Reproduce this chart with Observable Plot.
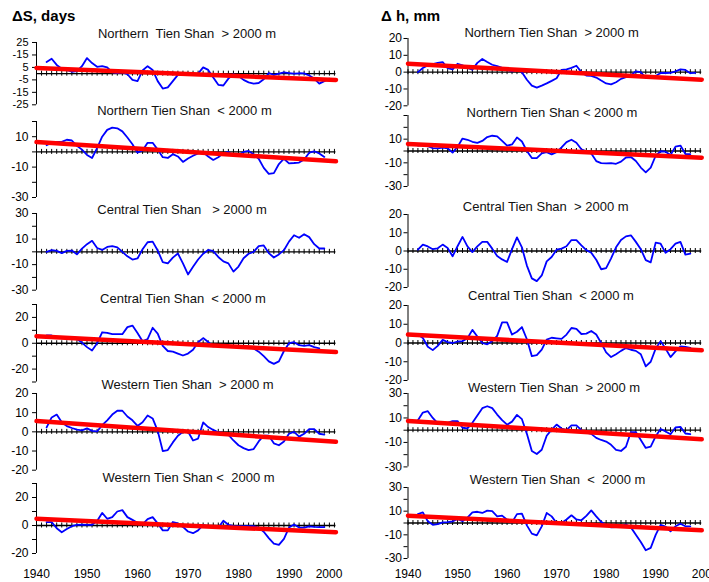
<!DOCTYPE html>
<html><head><meta charset="utf-8">
<script src="https://cdn.jsdelivr.net/npm/d3@7"></script>
<script src="https://cdn.jsdelivr.net/npm/@observablehq/plot@0.6"></script>
<style>
html,body{margin:0;padding:0;background:#fff;overflow:hidden;}
#chart{position:relative;width:709px;height:582px;font-family:"Liberation Sans",Arial,sans-serif;color:#000;}
.hdr{position:absolute;font-weight:bold;font-size:15px;line-height:1;white-space:pre;}
.ttl{position:absolute;font-size:13px;line-height:1;white-space:pre;transform:translate(-50%,-50%);color:#111;}
</style></head><body><div id="chart"></div>
<script>
// ---------- data ----------
const startYear = 1942;
const trendYears = [1940, 1999.3];
const yearTicks = d3.range(1940, 2000);
const decadeLabels = [1940, 1950, 1960, 1970, 1980, 1990];
const lastLabel = [2000];

// ΔS, days
const dsNorthHigh = [9.4,12,7,4,3,1.5,2,6,12.5,8.5, 5.5,6,5,1,0.5,1,-0.5,-5,-6,2.5, 6,3,-6,-12,-11,-6,-1,-0.5,-0.5,-0.5, 0,5,3,-3,-9,-9.5,-4,-0.5,-2,-5, -7,-8,-7.5,-4.5,0.5,-1,0,1,0.5,0, 0.3,0.2,-1.5,-4,-8,-6,-4];
const dsNorthLow = [4.4,6,6.6,6.6,8,7.5,4,1.5,-2,-4, 2.5,10,14.5,16,15.5,13.5,9.5,5,-0.5,1, 6,6,1.5,-3.5,-4,-1.5,-3,-6.6,-4.3,-2.5, -1,-0.3,-3,-5.3,-3.5,-0.8,0,-2.5,-2,0, 0.6,-1.5,-4.5,-10.5,-14.5,-14,-8,-4.5,-7.5,-7.3, -7,-5,-0.5,0.4,-1,-3.3];
const dsCentralHigh = [0,1.3,0.8,-1,0.8,1,-2,2.5,6,8.6, 3,1.5,3.8,4.5,3.5,0,-3.5,-6,-5.2,2, 7.5,8,1,-8,-9,-4.5,-1.3,-9,-17.7,-11.7, -6,-1.5,1.5,0.5,-4,-7.5,-9,-15.5,-11.5,-5, -1.5,0,4.5,5,-1,-4.4,-2,1.3,8,13, 11,13.8,11.5,6,2.6,2.6];
const dsCentralLow = [6,6,5,3.8,4.8,4.8,3.2,0.5,-3,-5.7, 0,8.5,8,7,7,7,12.5,13.7,8,1.5, 3.2,12,7.5,-2,-6,-6.5,-8,-9.5,-8,-5, 0.8,4,1,-2.5,-2,-1.5,-2,-2.5,-3,-3, -3.5,-4,-6.5,-10,-14,-16,-14,-6,0,0.8, -1.5,-2,-1.5,-3,-3.9];
const dsWestHigh = [2.3,7.5,9,5,3,2,1.2,0.8,1.8,0.5, 0.2,3.5,6,9,11,11,8,6,3.1,5, 8.5,7,0.5,-10,-9.5,-5.5,-2,0,0.2,-4.5, -3.5,4.9,2.5,1,-0.2,-0.5,-1.5,-4.5,-7,-8.5, -9.5,-9,-5,-2,-2,-6,-7,-5,-1,0, -2.5,-1,1.4,1.4,-1,-1.4];
const dsWestLow = [2.4,2.4,-2,-4.8,-2.5,-0.5,0.5,0.6,0.5,0.5, 3.2,9,4.8,6,10,11,6,4,2,0.8, 4.5,6,1.5,-3.5,-3.5,2.5,1.5,-1,-4.3,-5.5, -3.5,0.5,-0.7,-1.5,-1.7,3.4,0.5,-0.3,-0.5,-0.5, -0.5,-0.5,-1.5,-4.5,-9,-13,-13.8,-9.5,-1.5,0.7, -1.5,-1.5,-0.6,-1,-1.2,-1.2];

// Δh, mm
const dhNorthHigh = [0,2.5,4,4.8,5.5,6,2.4,1.6,5,4, 2.5,1.5,5.5,7.8,6,4.4,3.6,2.5,1.3,0.4, 1.5,0,-4.5,-8,-9.2,-8,-6.7,-5.2,-3.6,1.4, 1.7,2.5,3.8,0,-2,-2.2,-3.2,-5,-6.7,-7.3, -6,-4,-3,-2,0.5,0,-3.5,-3.5,-2.3,-0.5, -0.5,-0.4,0.5,1.6,1.3,-0.6,-0.4];
const dhNorthLow = [4.6,5,4,2.5,2.3,2.8,2.3,-1.4,3.5,10.5, 9.5,7.8,6.8,8.5,11.8,12.9,12.3,8.5,4.5,5.5, 11.5,8,0,-6,-6,-2,-1,-2.9,-1,3, 7.5,9.5,7,1.5,-0.2,-2.2,-8.5,-10.3,-10.4,-10.2, -10.8,-9,-5.5,-5.1,-8.5,-14,-18,-14,-4,-0.2, -0.6,-3.4,3.7,4.6,-2.6,-2.6];
const dhCentralHigh = [0.7,3.5,2.5,1,1.5,3.5,1.7,-2.9,2.6,7.7, 2.5,-0.6,2.5,5,5,1.3,-2.8,-4.6,-6,1, 7.5,2,-8,-15,-16.5,-13.4,-5.7,-3.3,0.7,1.3, 2.6,6,6,3.1,0.5,-1,-4.8,-10,-9.4,-4, 2,6,8,8.6,5,1,-5,-6.2,4.6,4, -1,1,4,5,-2,-1.5];
const dhCentralLow = [4.5,2.7,-2,-3.8,-1.5,1.7,0.5,0,0.8,1, 2.5,7,3.5,0,-0.7,1,3.8,11,11,4.5, 6,8.5,2,-7,-6.5,-3.5,1.8,2.8,2.5,2.2, 4.5,8,7.5,4.8,5,6.4,4.5,0,-5,-7.5, -6,-4.2,-2.7,-3.6,-4.2,-6,-12.5,-10,-3,1, -3,-7.5,-4.5,-1.8,-2.1,-2.6];
const dhWestHigh = [8.2,14.4,15.5,10,5.5,5,6,7.4,7.4,2, 1.4,6,12,18,19.6,18,12.8,8.2,4.5,7, 12.5,9,-3,-17,-19.5,-16,-4.5,0.5,4.6,1.4, 0,4,4,0,-2,-3,-6.3,-8,-9.3,-12, -16,-17,-13.5,-1.5,-1.5,-8,-14.5,-13.5,-5,1, -1,-3.3,2.2,2.7,-2.7,-3.3];
const dhWestLow = [7.6,9,1.4,-1.5,-1,0.6,0.8,1.4,3.5,1.5, 4.5,9,9.5,8.5,10.5,10,5.6,6.2,2.8,0.5, 7.5,8,-2,-9,-10.5,-2.8,8.5,5.6,0,0, 3,6.5,3,2.3,6,10.7,5.6,1,-2,-3.7, -3.5,-2.5,-1.4,-3.7,-9.9,-16,-23,-21,-10,-1.5, -3,-7,-2.8,-0.6,-2.8,-2.8];

// linear trends (value at 1940, value at end)
const trendDsNorthHigh = [4.5, -5];
const trendDsNorthLow = [6.5, -6.2];
const trendDsCentralLow = [5.5, -6.8];
const trendDsWestHigh = [5.6, -5.2];
const trendDsWestLow = [4.8, -4.8];
const trendDhNorthHigh = [5, -4.5];
const trendDhNorthLow = [6, -5.7];
const trendDhCentralLow = [4.5, -3.9];
const trendDhWestHigh = [7.6, -7.4];
const trendDhWestLow = [6.2, -6.2];

const titles = [
  "Northern  Tien Shan  > 2000 m", "Northern Tien Shan  < 2000 m", "Central Tien Shan   > 2000 m",
  "Central Tien Shan  < 2000 m", "Western Tien Shan  > 2000 m", "Western Tien Shan <  2000 m",
  "Northern Tien Shan  > 2000 m", "Northern Tien Shan < 2000 m", "Central Tien Shan  > 2000 m",
  "Central Tien Shan  < 2000 m", "Western Tien Shan  > 2000 m", "Western Tien Shan  <  2000 m"
];
const headers = ["\u0394S, days", "\u0394 h, mm"];

// ---------- layout ----------
const cols = [
  {left: 0, width: 354, mLeft: 36, mRight: 15, pad: 4},
  {left: 354, width: 355, mLeft: 53.5, mRight: 4.3, pad: 2}
];
const panels = [
  {col:0, top:41.7, bot:104, dom:[-25,25], ticks:[25,15,5,-5,-15,-25], labels:["25","-15","5","-5","-15","-25"], s:dsNorthHigh, t:trendDsNorthHigh, tx:187, ty:33, fs:11},
  {col:0, top:121, bot:197, dom:[-30,20], ticks:[20,10,0,-10,-20,-30], labels:["","10","","-10","","-30"], s:dsNorthLow, t:trendDsNorthLow, tx:184.5, ty:110},
  {col:0, top:213.3, bot:290, dom:[-30,30], ticks:[30,20,10,0,-10,-20,-30], labels:["30","","10","","-10","","-30"], s:dsCentralHigh, t:null, tx:182, ty:209},
  {col:0, top:304, bot:381.5, dom:[-30,30], ticks:[30,20,10,0,-10,-20,-30], labels:["","20","","0","","-20",""], s:dsCentralLow, t:trendDsCentralLow, tx:183, ty:297.7},
  {col:0, top:393.3, bot:470, dom:[-20,20], ticks:[20,10,0,-10,-20], labels:["20","10","0","-10","-20"], s:dsWestHigh, t:trendDsWestHigh, tx:187.5, ty:384},
  {col:0, top:483.3, bot:553.3, dom:[-20,30], ticks:[30,20,10,0,-10,-20], labels:["","20","","0","","-20"], s:dsWestLow, t:trendDsWestLow, tx:188.5, ty:477.3, xaxis:true, xpad:16},
  {col:1, top:37.7, bot:105, dom:[-20,20], ticks:[20,10,0,-10,-20], labels:["20","10","0","-10","-20"], s:dhNorthHigh, t:trendDhNorthHigh, tx:551.7, ty:32.3},
  {col:1, top:115, bot:186, dom:[-30,30], ticks:[30,20,10,0,-10,-20,-30], labels:["","","10","","-10","","-30"], s:dhNorthLow, t:trendDhNorthLow, tx:552, ty:111.7},
  {col:1, top:214.3, bot:287.3, dom:[-20,20], ticks:[20,10,0,-10,-20], labels:["20","10","0","-10","-20"], s:dhCentralHigh, t:null, tx:545.7, ty:205.7},
  {col:1, top:305, bot:380, dom:[-20,20], ticks:[20,10,0,-10,-20], labels:["20","10","0","-10","-20"], s:dhCentralLow, t:trendDhCentralLow, tx:551, ty:295},
  {col:1, top:393.3, bot:466.7, dom:[-30,30], ticks:[30,20,10,0,-10,-20,-30], labels:["30","","10","","-10","","-30"], s:dhWestHigh, t:trendDhWestHigh, tx:554, ty:386.7},
  {col:1, top:487.3, bot:558.3, dom:[-30,30], ticks:[30,20,10,0,-10,-20,-30], labels:["30","","10","","-10","","-30"], s:dhWestLow, t:trendDhWestLow, tx:557.5, ty:479.3, xaxis:true, xpad:11}
];

const chart = document.getElementById("chart");

headers.forEach((h, i) => {
  const d = document.createElement("div");
  d.className = "hdr";
  d.textContent = h;
  d.style.left = (i === 0 ? 12 : 381) + "px";
  d.style.top = "8px";
  chart.appendChild(d);
});

panels.forEach((p, idx) => {
  const c = cols[p.col];
  const mt = 8, mb = p.xaxis ? 30 : 8;
  const height = (p.bot - p.top) + mt + mb;
  const data = p.s.map((v, i) => ({year: startYear + i, value: v}));
  const labelOf = new Map(p.ticks.map((t, i) => [t, p.labels[i]]));
  const marks = [
    Plot.ruleX([1940], {stroke: "#000", strokeWidth: 1}),
    Plot.axisY({ticks: p.ticks, tickFormat: d => labelOf.get(d), tickSize: 4, tickPadding: c.pad, fontSize: p.fs || 12, stroke: "#000", label: null}),
    Plot.ruleY([0], {x1: trendYears[0], x2: trendYears[1], stroke: "#000", strokeWidth: 1.3}),
    Plot.ruleX(yearTicks, {x: d => d, y1: 0, y2: 0, insetTop: -2.5, insetBottom: -2.5, stroke: "#000", strokeWidth: 1}),
    Plot.line(data, {x: "year", y: "value", stroke: "#0000ff", strokeWidth: 1.8})
  ];
  if (p.t) {
    const tr = trendYears.map((y, i) => ({year: y, value: p.t[i]}));
    marks.push(Plot.line(tr, {x: "year", y: "value", stroke: "#ff0000", strokeWidth: 4.5}));
  }
  if (p.xaxis) {
    marks.push(Plot.axisX({ticks: decadeLabels, tickSize: 0, tickPadding: p.xpad, fontSize: 12, tickFormat: d => String(d), label: null}));
    marks.push(Plot.axisX({ticks: lastLabel, tickSize: 0, tickPadding: p.xpad, fontSize: 12, tickFormat: d => String(d), label: null, dx: p.col === 0 ? -10.5 : 0}));
  }
  const svg = Plot.plot({
    width: c.width, height,
    marginLeft: c.mLeft, marginRight: c.mRight, marginTop: mt, marginBottom: mb,
    x: {domain: [1940, 2000], axis: null},
    y: {domain: p.dom, axis: null},
    marks
  });
  svg.style.position = "absolute";
  svg.style.left = c.left + "px";
  svg.style.top = (p.top - mt) + "px";
  svg.style.background = "transparent";
  svg.style.overflow = "visible";
  svg.style.fontFamily = '"Liberation Sans", Arial, sans-serif';
  chart.appendChild(svg);

  const t = document.createElement("div");
  t.className = "ttl";
  t.textContent = titles[idx];
  t.style.left = p.tx + "px";
  t.style.top = p.ty + "px";
  chart.appendChild(t);
});
</script></body></html>
